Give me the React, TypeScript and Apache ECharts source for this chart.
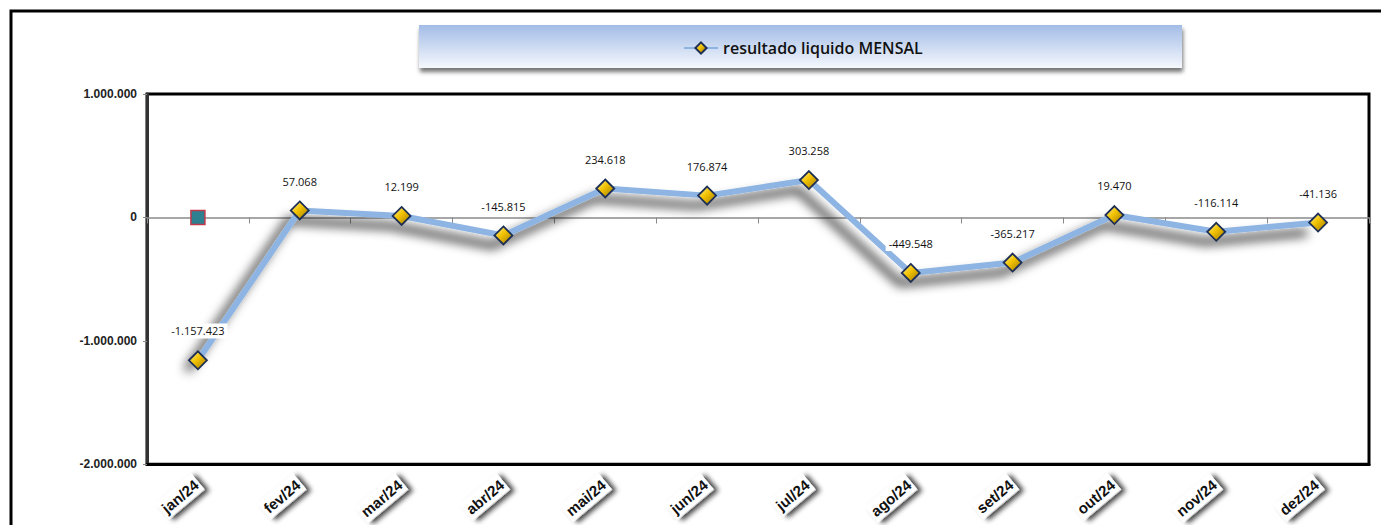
import React, { useEffect, useRef } from "react";
import * as echarts from "echarts";

const categories = ["jan/24", "fev/24", "mar/24", "abr/24", "mai/24", "jun/24", "jul/24", "ago/24", "set/24", "out/24", "nov/24", "dez/24"];
const resultadoMensal = [-1157423, 57068, 12199, -145815, 234618, 176874, 303258, -449548, -365217, 19470, -116114, -41136];
const extraMarker = [0, null, null, null, null, null, null, null, null, null, null, null];
const seriesName = "resultado liquido MENSAL";
const yMin = -2000000;
const yMax = 1000000;
const yStep = 1000000;

const fmt = (v: number) => {
  const s = Math.abs(Math.round(v)).toString().replace(/\B(?=(\d{3})+(?!\d))/g, ".");
  return (v < 0 ? "-" : "") + s;
};

export default function App() {
  const ref = useRef<HTMLDivElement>(null);
  useEffect(() => {
    document.body.style.margin = "0";
    document.body.style.overflow = "hidden";
    document.documentElement.style.overflow = "hidden";
    const chart = echarts.init(ref.current!, null, { renderer: "svg" });
    const diamondFill = new echarts.graphic.LinearGradient(0, 0, 1, 1, [
      { offset: 0, color: "#fff3a0" },
      { offset: 0.45, color: "#f2c200" },
      { offset: 1, color: "#9a7400" },
    ]);
    chart.setOption({
      animation: false,
      backgroundColor: "#ffffff",
      graphic: [
        {
          type: "rect",
          z: -10,
          shape: { x: 11, y: 11, width: 1420, height: 600 },
          style: { fill: "none", stroke: "#000", lineWidth: 3 },
        },
        {
          type: "rect",
          z: 0,
          shape: { x: 419, y: 25, width: 763, height: 43 },
          style: {
            fill: new echarts.graphic.LinearGradient(0, 0, 0, 1, [
              { offset: 0, color: "#a3bce6" },
              { offset: 1, color: "#f5f8fd" },
            ]),
            shadowColor: "rgba(0,0,0,0.55)",
            shadowBlur: 4,
            shadowOffsetX: 1,
            shadowOffsetY: 4,
          },
        },
      ],
      legend: {
        data: [seriesName],
        left: 678,
        top: 35,
        itemWidth: 34,
        itemHeight: 14,
        itemGap: 6,
        textStyle: { fontFamily: "Open Sans", fontSize: 16, color: "#111", fontWeight: 600 },
      },
      grid: {
        left: 147,
        top: 94,
        width: 1222,
        height: 377,
        show: true,
        borderColor: "#000",
        borderWidth: 3,
        backgroundColor: "#fff",
      },
      xAxis: [
        {
          type: "category",
          data: categories,
          boundaryGap: true,
          position: "bottom",
          axisLine: { onZero: false, lineStyle: { color: "#000", width: 3 } },
          axisTick: { show: false },
          axisLabel: {
            interval: 0,
            rotate: 40,
            margin: 17,
            fontFamily: "Liberation Sans Narrow, Liberation Sans, Arial",
            fontWeight: "bold",
            fontSize: 15,
            color: "#111",
            backgroundColor: "#fff",
            padding: [3, 2],
            shadowColor: "rgba(0,0,0,0.75)",
            shadowBlur: 5,
            shadowOffsetX: 3,
            shadowOffsetY: 4,
          },
        },
        {
          type: "category",
          data: categories,
          boundaryGap: true,
          position: "bottom",
          axisLine: { onZero: true, lineStyle: { color: "#8a8a8a", width: 1.5 } },
          axisTick: { show: true, length: 6, lineStyle: { color: "#8a8a8a" } },
          axisLabel: { show: false },
        },
      ],
      yAxis: {
        type: "value",
        min: yMin,
        max: yMax,
        interval: yStep,
        axisLine: { show: true, lineStyle: { color: "#333", width: 3 } },
        axisTick: { show: true, length: 4, lineStyle: { color: "#888" } },
        splitLine: { show: false },
        axisLabel: {
          formatter: (v: number) => fmt(v),
          fontFamily: "Liberation Sans Narrow, Liberation Sans, Arial",
          fontWeight: "bold",
          fontSize: 12,
          color: "#222",
          margin: 10,
        },
      },
      series: [
        {
          name: seriesName,
          type: "line",
          xAxisIndex: 0,
          data: resultadoMensal,
          symbol: "diamond",
          symbolSize: 18,
          z: 5,
          lineStyle: {
            color: "#8db4e2",
            width: 6,
            shadowColor: "rgba(0,0,0,0.9)",
            shadowBlur: 11,
            shadowOffsetX: -11,
            shadowOffsetY: 10,
          },
          itemStyle: {
            color: diamondFill,
            borderColor: "#1e2f55",
            borderWidth: 1.8,
          },
          label: {
            show: true,
            position: "top",
            distance: 12,
            formatter: (p: any) => fmt(p.value),
            fontFamily: "Open Sans",
            fontSize: 11,
            fontWeight: 500,
            color: "#111",
            backgroundColor: "#fff",
            padding: [2, 3],
          },
          markLine: {
            silent: true,
            symbol: "none",
            z: 1,
            label: { show: false },
            data: [{ yAxis: 0 }],
            lineStyle: {
              type: "solid",
              color: "#8a8a8a",
              width: 1.5,
              shadowColor: "rgba(0,0,0,0.6)",
              shadowBlur: 10,
              shadowOffsetY: 8,
            },
          },
        },
        {
          name: "marcador",
          type: "line",
          xAxisIndex: 0,
          data: extraMarker,
          symbol: "rect",
          symbolSize: 14,
          showSymbol: true,
          z: 6,
          lineStyle: { width: 0 },
          itemStyle: { color: "#2e7f8f", borderColor: "#c0394a", borderWidth: 1.5 },
          label: { show: false },
        },
      ],
    });
    return () => chart.dispose();
  }, []);
  return <div ref={ref} style={{ width: 1381, height: 525 }} />;
}
